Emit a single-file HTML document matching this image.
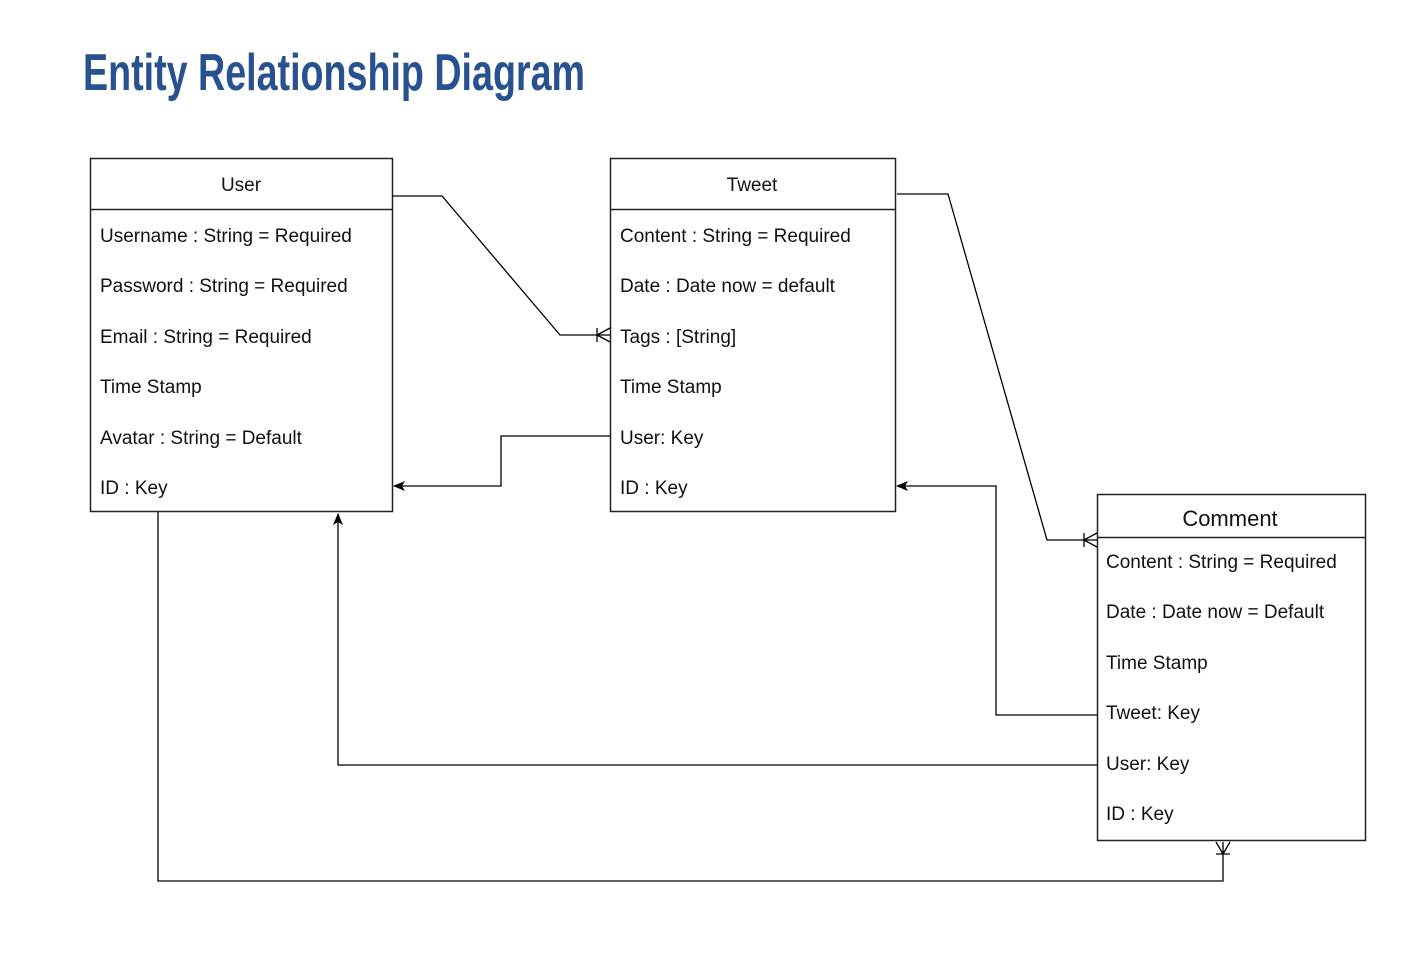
<!DOCTYPE html>
<html><head><meta charset="utf-8"><style>
html,body{margin:0;padding:0;background:#fff;}
svg{display:block;}
text{font-family:"Liberation Sans",Arial,sans-serif;fill:#111;}
</style></head><body>
<svg width="1422" height="968" viewBox="0 0 1422 968" xmlns="http://www.w3.org/2000/svg">
<defs>
<marker id="arr" markerWidth="12" markerHeight="10" refX="11" refY="5" orient="auto" markerUnits="userSpaceOnUse">
<path d="M0,0 L12,5 L0,10 L3,5 Z" fill="#000"/>
</marker>
</defs>
<text x="83" y="90" font-size="52" font-weight="bold" textLength="502" lengthAdjust="spacingAndGlyphs" style="fill:#27528f">Entity Relationship Diagram</text>

<g fill="none" stroke="#222" stroke-width="1.5">
<rect x="90.5" y="158.5" width="302" height="353"/>
<line x1="90" y1="209.5" x2="392" y2="209.5"/>
<rect x="610.5" y="158.5" width="285" height="353"/>
<line x1="610" y1="209.5" x2="895" y2="209.5"/>
<rect x="1097.5" y="494.5" width="268" height="346"/>
<line x1="1097" y1="537.5" x2="1365" y2="537.5"/>
</g>

<g fill="none" stroke="#000" stroke-width="1.3">
<polyline points="392,196 442,196 560,335 610,335"/>
<path d="M597,328 V342 M597,335 L610,328 M597,335 L610,342"/>
<polyline points="610,436 501,436 501,486 394,486" marker-end="url(#arr)"/>
<polyline points="897,194 948,194 1047,540 1097,540"/>
<path d="M1084,533 V547 M1084,540 L1097,533 M1084,540 L1097,547"/>
<polyline points="1097,715 996,715 996,486 897,486" marker-end="url(#arr)"/>
<polyline points="1097,765 338,765 338,514" marker-end="url(#arr)"/>
<polyline points="158,512 158,881 1223,881 1223,842"/>
<path d="M1216,854 H1230 M1223,854 L1216,842 M1223,854 L1230,842"/>
</g>

<g font-size="19">
<text x="241" y="191" text-anchor="middle">User</text>
<text x="100" y="242">Username :  String = Required</text>
<text x="100" y="292">Password : String = Required</text>
<text x="100" y="343">Email : String = Required</text>
<text x="100" y="393">Time Stamp</text>
<text x="100" y="444">Avatar : String = Default</text>
<text x="100" y="494">ID : Key</text>

<text x="752" y="191" text-anchor="middle">Tweet</text>
<text x="620" y="242">Content : String = Required</text>
<text x="620" y="292">Date :  Date now = default</text>
<text x="620" y="343">Tags : [String]</text>
<text x="620" y="393">Time Stamp</text>
<text x="620" y="444">User: Key</text>
<text x="620" y="494">ID : Key</text>

<text x="1230" y="526" text-anchor="middle" font-size="22">Comment</text>
<text x="1106" y="568">Content : String = Required</text>
<text x="1106" y="618">Date : Date now = Default</text>
<text x="1106" y="669">Time Stamp</text>
<text x="1106" y="719">Tweet: Key</text>
<text x="1106" y="770">User: Key</text>
<text x="1106" y="820">ID : Key</text>
</g>
</svg>
</body></html>
